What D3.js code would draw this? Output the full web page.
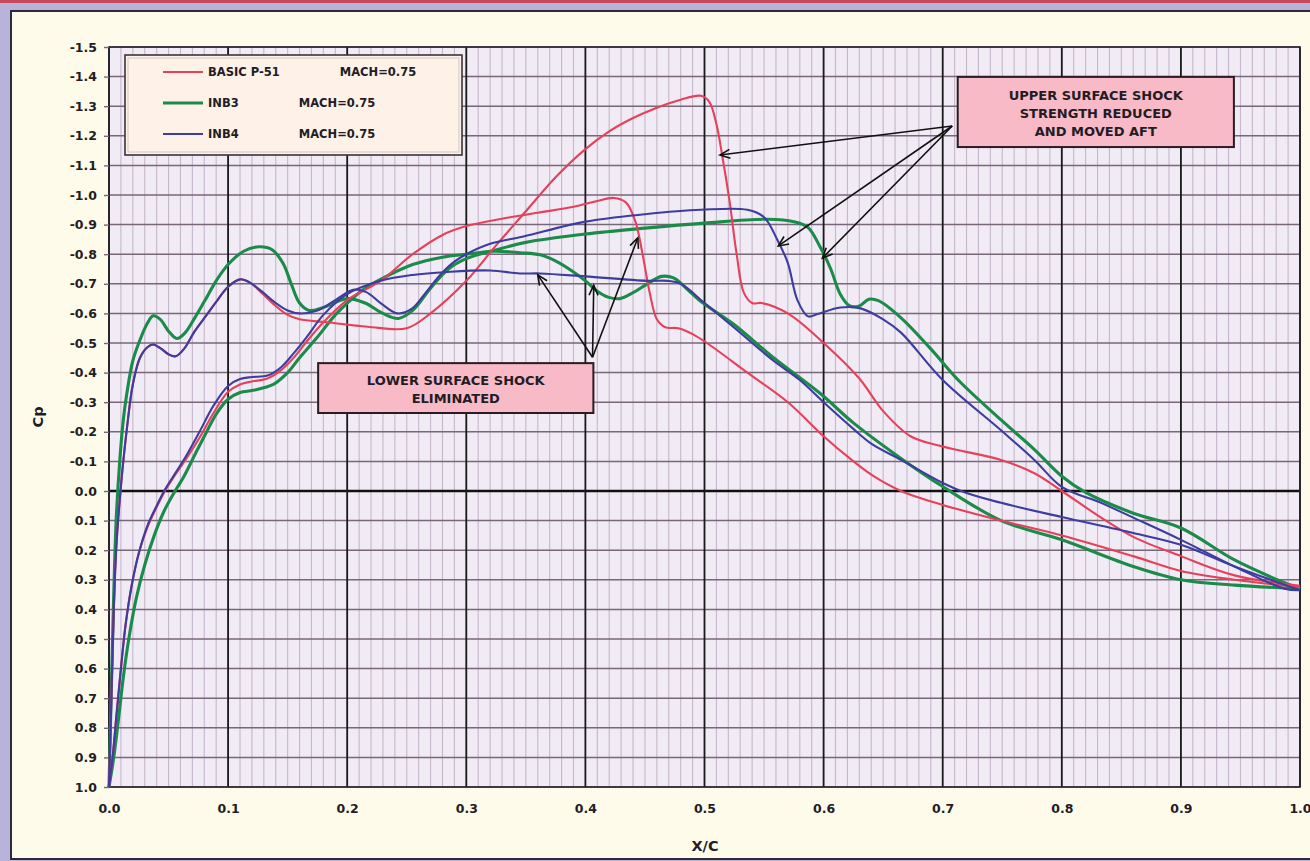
<!DOCTYPE html>
<html>
<head>
<meta charset="utf-8">
<script src="https://cdn.jsdelivr.net/npm/d3@7"></script>
<style>
body { margin: 0; background: #b8b3da; overflow: hidden; }
svg { display: block; }
text { font-family: "DejaVu Sans", Verdana, sans-serif; font-weight: bold; fill: #231c24; }
</style>
</head>
<body>
<svg id="chart"></svg>
<script>
const width = 1310;
const height = 861;
const plot = {left: 109, right: 1300, top: 47, bottom: 787};

// axis ticks
const xTicks = [0, 0.1, 0.2, 0.3, 0.4, 0.5, 0.6, 0.7, 0.8, 0.9, 1.0];
const yTicks = [-1.5, -1.4, -1.3, -1.2, -1.1, -1.0, -0.9, -0.8, -0.7, -0.6, -0.5, -0.4, -0.3, -0.2, -0.1,
                0, 0.1, 0.2, 0.3, 0.4, 0.5, 0.6, 0.7, 0.8, 0.9, 1.0];

// legend
const seriesNames = ['BASIC P-51', 'INB3', 'INB4'];
const machLabel = 'MACH=0.75';

// Cp distributions, [x/c, Cp]
const basicUpper = [[0,1.0],[0.002,0.7],[0.004,0.4],[0.006,0.2],[0.009,0.03],[0.012,-0.1],[0.015,-0.21],[0.02,-0.36],
  [0.026,-0.45],[0.032,-0.485],[0.037,-0.495],[0.044,-0.48],[0.05,-0.462],[0.056,-0.455],[0.063,-0.48],[0.072,-0.54],
  [0.082,-0.595],[0.092,-0.65],[0.1,-0.69],[0.11,-0.715],[0.118,-0.705],[0.128,-0.67],[0.14,-0.625],[0.15,-0.595],
  [0.16,-0.58],[0.183,-0.57],[0.217,-0.555],[0.25,-0.55],[0.27,-0.6],[0.3,-0.71],[0.325,-0.83],[0.35,-0.945],
  [0.375,-1.06],[0.4,-1.155],[0.42,-1.215],[0.44,-1.26],[0.46,-1.295],[0.48,-1.322],[0.497,-1.335],[0.504,-1.315],
  [0.51,-1.24],[0.515,-1.13],[0.521,-0.98],[0.527,-0.8],[0.533,-0.67],[0.54,-0.635],[0.548,-0.635],[0.57,-0.6],
  [0.6,-0.5],[0.63,-0.38],[0.65,-0.27],[0.673,-0.185],[0.7,-0.15],[0.749,-0.105],[0.777,-0.06],[0.8,0.0],
  [0.833,0.09],[0.86,0.155],[0.9,0.22],[0.945,0.285],[1.0,0.32]];

const basicLower = [[0,1.0],[0.003,0.9],[0.006,0.77],[0.01,0.6],[0.014,0.45],[0.019,0.32],[0.025,0.21],[0.032,0.125],
  [0.04,0.055],[0.047,0.0],[0.054,-0.045],[0.065,-0.11],[0.076,-0.18],[0.088,-0.265],[0.1,-0.335],[0.11,-0.36],[0.12,-0.37],
  [0.133,-0.38],[0.145,-0.41],[0.155,-0.45],[0.165,-0.5],[0.18,-0.57],[0.2,-0.645],[0.228,-0.71],[0.255,-0.8],
  [0.28,-0.865],[0.3,-0.895],[0.33,-0.92],[0.36,-0.94],[0.39,-0.96],[0.41,-0.98],[0.424,-0.99],[0.434,-0.975],
  [0.442,-0.91],[0.448,-0.8],[0.454,-0.67],[0.46,-0.58],[0.467,-0.553],[0.478,-0.55],[0.49,-0.53],[0.502,-0.5],
  [0.536,-0.4],[0.57,-0.3],[0.6,-0.185],[0.622,-0.11],[0.642,-0.05],[0.665,0.0],[0.7,0.047],[0.749,0.1],
  [0.8,0.15],[0.86,0.22],[0.9,0.27],[0.945,0.3],[1.0,0.325]];

const inb3Upper = [[0,1.0],[0.003,0.5],[0.006,0.1],[0.009,-0.1],[0.012,-0.24],[0.015,-0.33],[0.02,-0.44],[0.026,-0.51],
  [0.032,-0.565],[0.037,-0.592],[0.043,-0.58],[0.05,-0.54],[0.057,-0.515],[0.064,-0.535],[0.072,-0.585],[0.08,-0.64],
  [0.09,-0.71],[0.1,-0.765],[0.113,-0.81],[0.126,-0.825],[0.137,-0.815],[0.146,-0.77],[0.153,-0.7],[0.16,-0.635],
  [0.168,-0.61],[0.18,-0.62],[0.2,-0.65],[0.215,-0.635],[0.23,-0.6],[0.243,-0.583],[0.255,-0.61],[0.27,-0.685],
  [0.285,-0.75],[0.3,-0.785],[0.33,-0.82],[0.35,-0.84],[0.4,-0.868],[0.45,-0.888],[0.5,-0.905],[0.553,-0.918],
  [0.575,-0.91],[0.587,-0.89],[0.597,-0.825],[0.606,-0.75],[0.614,-0.665],[0.622,-0.625],[0.63,-0.625],[0.638,-0.648],
  [0.646,-0.643],[0.665,-0.585],[0.69,-0.48],[0.713,-0.375],[0.749,-0.24],[0.777,-0.14],[0.8,-0.05],[0.82,0.005],
  [0.86,0.075],[0.9,0.125],[0.945,0.233],[0.987,0.31],[1.0,0.33]];

const inb3Lower = [[0,1.0],[0.004,0.9],[0.008,0.77],[0.012,0.63],[0.017,0.49],[0.023,0.36],[0.03,0.25],[0.038,0.15],
  [0.046,0.07],[0.054,0.01],[0.063,-0.05],[0.073,-0.13],[0.082,-0.2],[0.09,-0.26],[0.1,-0.31],[0.11,-0.333],
  [0.121,-0.34],[0.138,-0.36],[0.15,-0.4],[0.16,-0.45],[0.175,-0.52],[0.19,-0.595],[0.2,-0.635],[0.215,-0.685],
  [0.228,-0.715],[0.255,-0.765],[0.28,-0.79],[0.3,-0.8],[0.323,-0.81],[0.345,-0.805],[0.362,-0.798],[0.376,-0.775],
  [0.39,-0.74],[0.4,-0.71],[0.41,-0.675],[0.419,-0.655],[0.429,-0.65],[0.44,-0.67],[0.452,-0.7],[0.464,-0.725],
  [0.474,-0.72],[0.486,-0.68],[0.497,-0.64],[0.524,-0.565],[0.558,-0.45],[0.597,-0.33],[0.625,-0.23],[0.665,-0.11],
  [0.7,-0.015],[0.749,0.1],[0.8,0.165],[0.86,0.255],[0.9,0.3],[0.945,0.318],[1.0,0.33]];

const inb4Upper = [[0,1.0],[0.002,0.7],[0.004,0.4],[0.006,0.2],[0.009,0.03],[0.012,-0.1],[0.015,-0.21],[0.02,-0.36],
  [0.026,-0.45],[0.032,-0.485],[0.037,-0.495],[0.044,-0.48],[0.05,-0.462],[0.056,-0.455],[0.063,-0.48],[0.072,-0.54],
  [0.082,-0.595],[0.092,-0.65],[0.1,-0.69],[0.11,-0.715],[0.118,-0.705],[0.128,-0.675],[0.14,-0.635],[0.15,-0.61],
  [0.16,-0.6],[0.175,-0.61],[0.19,-0.645],[0.205,-0.68],[0.216,-0.672],[0.228,-0.635],[0.242,-0.6],[0.254,-0.615],
  [0.265,-0.665],[0.278,-0.73],[0.29,-0.775],[0.3,-0.8],[0.32,-0.835],[0.348,-0.86],[0.4,-0.91],[0.45,-0.935],
  [0.497,-0.95],[0.536,-0.95],[0.55,-0.925],[0.561,-0.85],[0.57,-0.77],[0.578,-0.645],[0.587,-0.59],[0.595,-0.598],
  [0.614,-0.62],[0.631,-0.617],[0.65,-0.58],[0.665,-0.535],[0.7,-0.375],[0.749,-0.205],[0.777,-0.105],[0.8,-0.014],
  [0.833,0.04],[0.86,0.09],[0.9,0.165],[0.945,0.255],[0.987,0.33],[1.0,0.335]];

const inb4Lower = [[0,1.0],[0.003,0.9],[0.006,0.77],[0.01,0.6],[0.014,0.45],[0.019,0.32],[0.025,0.21],[0.032,0.12],
  [0.04,0.05],[0.047,-0.005],[0.054,-0.05],[0.065,-0.12],[0.076,-0.2],[0.088,-0.29],[0.1,-0.355],[0.11,-0.378],[0.12,-0.385],
  [0.133,-0.39],[0.145,-0.42],[0.155,-0.465],[0.166,-0.52],[0.18,-0.595],[0.2,-0.665],[0.228,-0.71],[0.255,-0.73],
  [0.284,-0.74],[0.32,-0.745],[0.345,-0.735],[0.362,-0.735],[0.4,-0.725],[0.452,-0.71],[0.469,-0.71],[0.48,-0.7],
  [0.5,-0.635],[0.524,-0.555],[0.558,-0.44],[0.58,-0.375],[0.6,-0.3],[0.625,-0.21],[0.64,-0.16],[0.665,-0.105],
  [0.7,-0.027],[0.72,0.007],[0.749,0.04],[0.8,0.088],[0.86,0.142],[0.9,0.182],[0.945,0.255],[1.0,0.335]];

// annotations: text lines, box corners and arrows in [x/c, Cp]
const upperNote = ['UPPER SURFACE SHOCK', 'STRENGTH REDUCED', 'AND MOVED AFT'];
const upperBox = [[0.7126, -1.399], [0.9445, -1.162]];
const upperArrowFrom = [0.708, -1.233];
const upperArrowTo = [[0.513, -1.135], [0.562, -0.828], [0.599, -0.787]];

const lowerNote = ['LOWER SURFACE SHOCK', 'ELIMINATED'];
const lowerBox = [[0.1756, -0.432], [0.4067, -0.2635]];
const lowerArrowFrom = [0.406, -0.452];
const lowerArrowTo = [[0.36, -0.73], [0.407, -0.695], [0.444, -0.855]];

const colors = {basic: '#e6405a', inb3: '#1c8b4a', inb4: '#3d3c9f'};
const widths = {basic: 2.1, inb3: 3.1, inb4: 2.1};

const svg = d3.select('#chart')
            .attr('width', width)
            .attr('height', height);

// outer frame
svg.append('rect').attr('width', width).attr('height', height).attr('fill', '#b8b3da');
svg.append('rect').attr('width', width).attr('height', 3).attr('fill', '#c44a5c');
svg.append('rect')
    .attr('x', 11).attr('y', 11)
    .attr('width', width).attr('height', height - 13)
    .attr('fill', '#fefbea')
    .attr('stroke', '#2e2a3a')
    .attr('stroke-width', 2);

const x = d3.scaleLinear().domain([0, 1]).range([plot.left, plot.right]);
const y = d3.scaleLinear().domain([-1.5, 1.0]).range([plot.top, plot.bottom]);

// plot background
svg.append('rect')
    .attr('x', plot.left).attr('y', plot.top)
    .attr('width', plot.right - plot.left).attr('height', plot.bottom - plot.top)
    .attr('fill', '#f1ebf5');

// minor vertical grid every 0.01
svg.append('g').selectAll('line').data(x.ticks(100)).join('line')
    .attr('x1', d => x(d)).attr('x2', d => x(d))
    .attr('y1', plot.top).attr('y2', plot.bottom)
    .attr('stroke', '#c6b7cb').attr('stroke-width', 1.1);

// horizontal grid every 0.1
svg.append('g').selectAll('line').data(yTicks).join('line')
    .attr('x1', plot.left).attr('x2', plot.right)
    .attr('y1', d => y(d)).attr('y2', d => y(d))
    .attr('stroke', d => d === 0 ? '#111' : '#776779')
    .attr('stroke-width', d => d === 0 ? 2.6 : 1.5);

// major vertical grid every 0.1
svg.append('g').selectAll('line').data(xTicks).join('line')
    .attr('x1', d => x(d)).attr('x2', d => x(d))
    .attr('y1', plot.top).attr('y2', plot.bottom)
    .attr('stroke', '#1a1a1a').attr('stroke-width', 1.8);

// plot border
svg.append('rect')
    .attr('x', plot.left).attr('y', plot.top)
    .attr('width', plot.right - plot.left).attr('height', plot.bottom - plot.top)
    .attr('fill', 'none').attr('stroke', '#2a2530').attr('stroke-width', 1.6);

// axes
const yAxis = svg.append('g').attr('transform', `translate(${plot.left}, 0)`)
    .call(d3.axisLeft(y).tickValues(yTicks).tickFormat(d => d.toFixed(1)).tickSize(5).tickPadding(7));
const xAxis = svg.append('g').attr('transform', `translate(0, ${plot.bottom})`)
    .call(d3.axisBottom(x).tickValues(xTicks).tickFormat(d => d.toFixed(1)).tickSize(0).tickPadding(17));
[xAxis, yAxis].forEach(a => {
    a.select('.domain').remove();
    a.selectAll('text').attr('font-size', 12.5).attr('font-family', null).attr('fill', '#231c24');
    a.selectAll('line').attr('stroke', '#776779').attr('stroke-width', 1.4);
});

svg.append('text')
    .attr('x', (plot.left + plot.right) / 2 + 0.5).attr('y', 851)
    .attr('text-anchor', 'middle').attr('font-size', 14.5)
    .text('X/C');
svg.append('text')
    .attr('transform', 'translate(43, 417) rotate(-90)')
    .attr('text-anchor', 'middle').attr('font-size', 14.5)
    .text('Cp');

// curves
const line = d3.line()
    .x(d => x(d[0]))
    .y(d => y(d[1]))
    .curve(d3.curveCatmullRom.alpha(0.5));

const curves = [
    {key: 'inb3', data: inb3Upper}, {key: 'inb3', data: inb3Lower},
    {key: 'basic', data: basicUpper}, {key: 'basic', data: basicLower},
    {key: 'inb4', data: inb4Upper}, {key: 'inb4', data: inb4Lower}
];
svg.append('g').selectAll('path').data(curves).join('path')
    .attr('d', d => line(d.data))
    .attr('fill', 'none')
    .attr('stroke', d => colors[d.key])
    .attr('stroke-width', d => widths[d.key])
    .attr('stroke-linejoin', 'round');

// legend
const legend = svg.append('g').attr('transform', 'translate(125, 55)');
legend.append('rect').attr('width', 337).attr('height', 100)
    .attr('fill', '#fdf1e8').attr('stroke', '#3a3438').attr('stroke-width', 1.6);
legend.append('rect').attr('x', 3).attr('y', 3).attr('width', 331).attr('height', 94)
    .attr('fill', 'none').attr('stroke', '#c9bfbf').attr('stroke-width', 0.8);
const keys = ['basic', 'inb3', 'inb4'];
seriesNames.forEach((name, i) => {
    const ly = 17 + i * 31;
    legend.append('line')
        .attr('x1', 38).attr('x2', 78).attr('y1', ly).attr('y2', ly)
        .attr('stroke', colors[keys[i]]).attr('stroke-width', widths[keys[i]]);
    legend.append('text')
        .attr('x', 83).attr('y', ly + 4)
        .attr('font-size', 11.5)
        .style('white-space', 'pre')
        .text(name + ' '.repeat(15) + machLabel);
});

// annotations
const defs = svg.append('defs');
defs.append('marker')
    .attr('id', 'head').attr('viewBox', '-12 -6 14 12')
    .attr('refX', 0).attr('refY', 0)
    .attr('markerWidth', 14).attr('markerHeight', 12)
    .attr('markerUnits', 'userSpaceOnUse')
    .attr('orient', 'auto')
    .append('path').attr('d', 'M-10,-4.5 L0,0 L-10,4.5')
    .attr('fill', 'none').attr('stroke', '#111').attr('stroke-width', 1.6);

function note(box, lines, from, targets, lineGap, firstOffset) {
    const g = svg.append('g');
    g.selectAll('line').data(targets).join('line')
        .attr('x1', x(from[0])).attr('y1', y(from[1]))
        .attr('x2', d => x(d[0])).attr('y2', d => y(d[1]))
        .attr('stroke', '#111').attr('stroke-width', 1.6)
        .attr('marker-end', 'url(#head)');
    const x0 = x(box[0][0]), y0 = y(box[0][1]);
    const x1 = x(box[1][0]), y1 = y(box[1][1]);
    g.append('rect')
        .attr('x', x0).attr('y', y0).attr('width', x1 - x0).attr('height', y1 - y0)
        .attr('fill', '#f8bac6').attr('stroke', '#2a1c22').attr('stroke-width', 2);
    g.selectAll('text').data(lines).join('text')
        .attr('x', (x0 + x1) / 2)
        .attr('y', (d, i) => y0 + firstOffset + i * lineGap)
        .attr('text-anchor', 'middle')
        .attr('font-size', 13)
        .attr('fill', '#2a1822')
        .text(d => d);
}
note(upperBox, upperNote, upperArrowFrom, upperArrowTo, 18, 23);
note(lowerBox, lowerNote, lowerArrowFrom, lowerArrowTo, 17.5, 22);
</script>
</body>
</html>
